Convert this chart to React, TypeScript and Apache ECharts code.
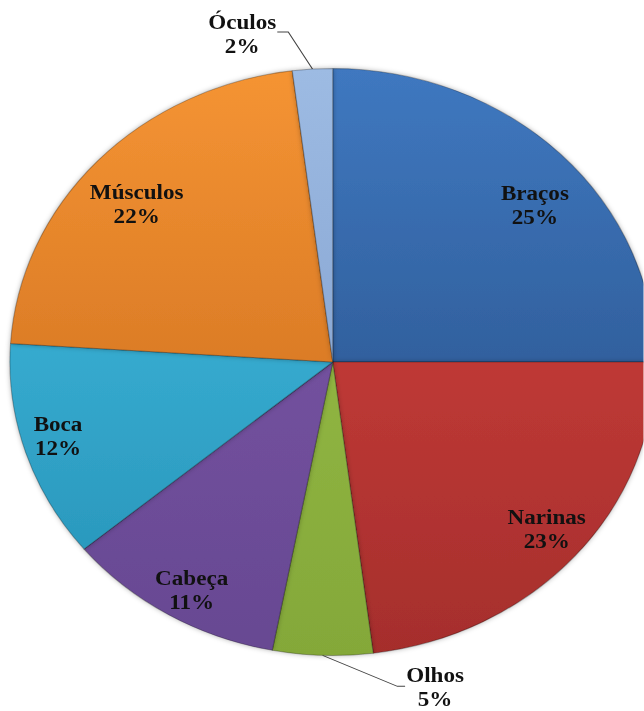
import React, { useEffect, useRef } from 'react';
import * as echarts from 'echarts';

// ---- data ----
const categories = ['Braços', 'Narinas', 'Olhos', 'Cabeça', 'Boca', 'Músculos', 'Óculos'];
const values = [25, 23, 5, 11, 12, 22, 2];
const outsideLabels = ['Olhos', 'Óculos'];

// ---- styles ----
const colorsTop = ['#3F78C0', '#D8443F', '#9CC24B', '#7E5AAA', '#45C2E6', '#F59433', '#9DBBE3'];
const colorsBottom = ['#24497C', '#A52E2C', '#84A839', '#674892', '#2590B5', '#C2641A', '#7896C6'];

const STRETCH = 1.1;
const W = 644;
const H = 711;
const CW = W / STRETCH;
const CX = 302.5;
const CY = 362;
const R = 293.5;
const TOP = CY - R;
const BOTTOM = CY + R;

const innerNudge: Record<string, [number, number]> = {
  'Braços': [7, 20],
  'Narinas': [7, 2],
  'Cabeça': [-1, 13],
  'Boca': [-12, -3],
  'Músculos': [4, 13],
};

const labelFont = {
  color: '#111111',
  fontSize: 21,
  lineHeight: 24,
  fontWeight: 'bold' as const,
  fontFamily: "'Liberation Serif', 'Times New Roman', serif",
};

export default function App() {
  const ref = useRef<HTMLDivElement>(null);

  useEffect(() => {
    if (!ref.current) return;
    const chart = echarts.init(ref.current, undefined, { renderer: 'svg', width: CW, height: H });

    const mainData = categories.map((name, i) => ({
      name,
      value: values[i],
      itemStyle: {
        color: new echarts.graphic.LinearGradient(0, TOP, 0, BOTTOM, [
          { offset: 0, color: colorsTop[i] },
          { offset: 1, color: colorsBottom[i] },
        ], true),
      },
      label: { show: outsideLabels.includes(name) },
      labelLine: { show: outsideLabels.includes(name) },
    }));

    const overlayData = categories.map((name, i) => ({
      name,
      value: values[i],
      label: { show: !outsideLabels.includes(name) },
    }));

    chart.setOption({
      animation: false,
      backgroundColor: '#ffffff',
      series: [
        {
          type: 'pie',
          silent: true,
          center: [CX, CY],
          radius: [0, R],
          startAngle: 90,
          clockwise: true,
          avoidLabelOverlap: false,
          itemStyle: {
            borderColor: 'rgba(0,0,0,0.28)',
            borderWidth: 1,
            shadowBlur: 5,
            shadowColor: 'rgba(0,0,0,0.3)',
          },
          label: {
            position: 'outside',
            formatter: '{b}\n{d}%',
            align: 'center',
            ...labelFont,
          },
          labelLine: {
            length: 30,
            length2: 8,
            lineStyle: { color: '#444444', width: 1 },
          },
          labelLayout: (p: any) => {
            const name = categories[p.dataIndex];
            if (!p.labelLinePoints) return {};
            const [x0, y0] = p.labelLinePoints[0];
            if (name === 'Olhos') {
              const p1 = [x0 + 68, y0 + 31];
              const p2 = [p1[0] + 7, p1[1]];
              return {
                x: p2[0] + 1 + p.labelRect.width / 2,
                y: p2[1] + 1,
                align: 'center',
                verticalAlign: 'middle',
                labelLinePoints: [[x0, y0], p1, p2],
              };
            }
            if (name === 'Óculos') {
              const p1 = [x0 - 22, y0 - 37];
              const p2 = [p1[0] - 10, p1[1]];
              return {
                x: p2[0] - 1 - p.labelRect.width / 2,
                y: p2[1] + 2,
                align: 'center',
                verticalAlign: 'middle',
                labelLinePoints: [[x0, y0], p1, p2],
              };
            }
            return {};
          },
          data: mainData,
          z: 2,
        },
        {
          type: 'pie',
          silent: true,
          center: [CX, CY],
          radius: [200, 294],
          startAngle: 90,
          clockwise: true,
          avoidLabelOverlap: false,
          itemStyle: { color: 'rgba(0,0,0,0)', borderWidth: 0 },
          label: {
            position: 'inside',
            formatter: '{b}\n{d}%',
            align: 'center',
            ...labelFont,
          },
          labelLine: { show: false },
          labelLayout: (p: any) => {
            const name = categories[p.dataIndex];
            const n = innerNudge[name];
            if (!n) return {};
            return {
              x: p.labelRect.x + p.labelRect.width / 2 + n[0],
              y: p.labelRect.y + p.labelRect.height / 2 + n[1],
              align: 'center',
              verticalAlign: 'middle',
            };
          },
          data: overlayData,
          z: 3,
        },
      ],
    });

    return () => chart.dispose();
  }, []);

  return (
    <div
      style={{
        position: 'fixed',
        left: 0,
        top: 0,
        width: W,
        height: H,
        overflow: 'hidden',
        background: '#ffffff',
      }}
    >
      <div
        ref={ref}
        style={{
          width: CW,
          height: H,
          transform: `scaleX(${STRETCH})`,
          transformOrigin: '0 0',
        }}
      />
    </div>
  );
}
